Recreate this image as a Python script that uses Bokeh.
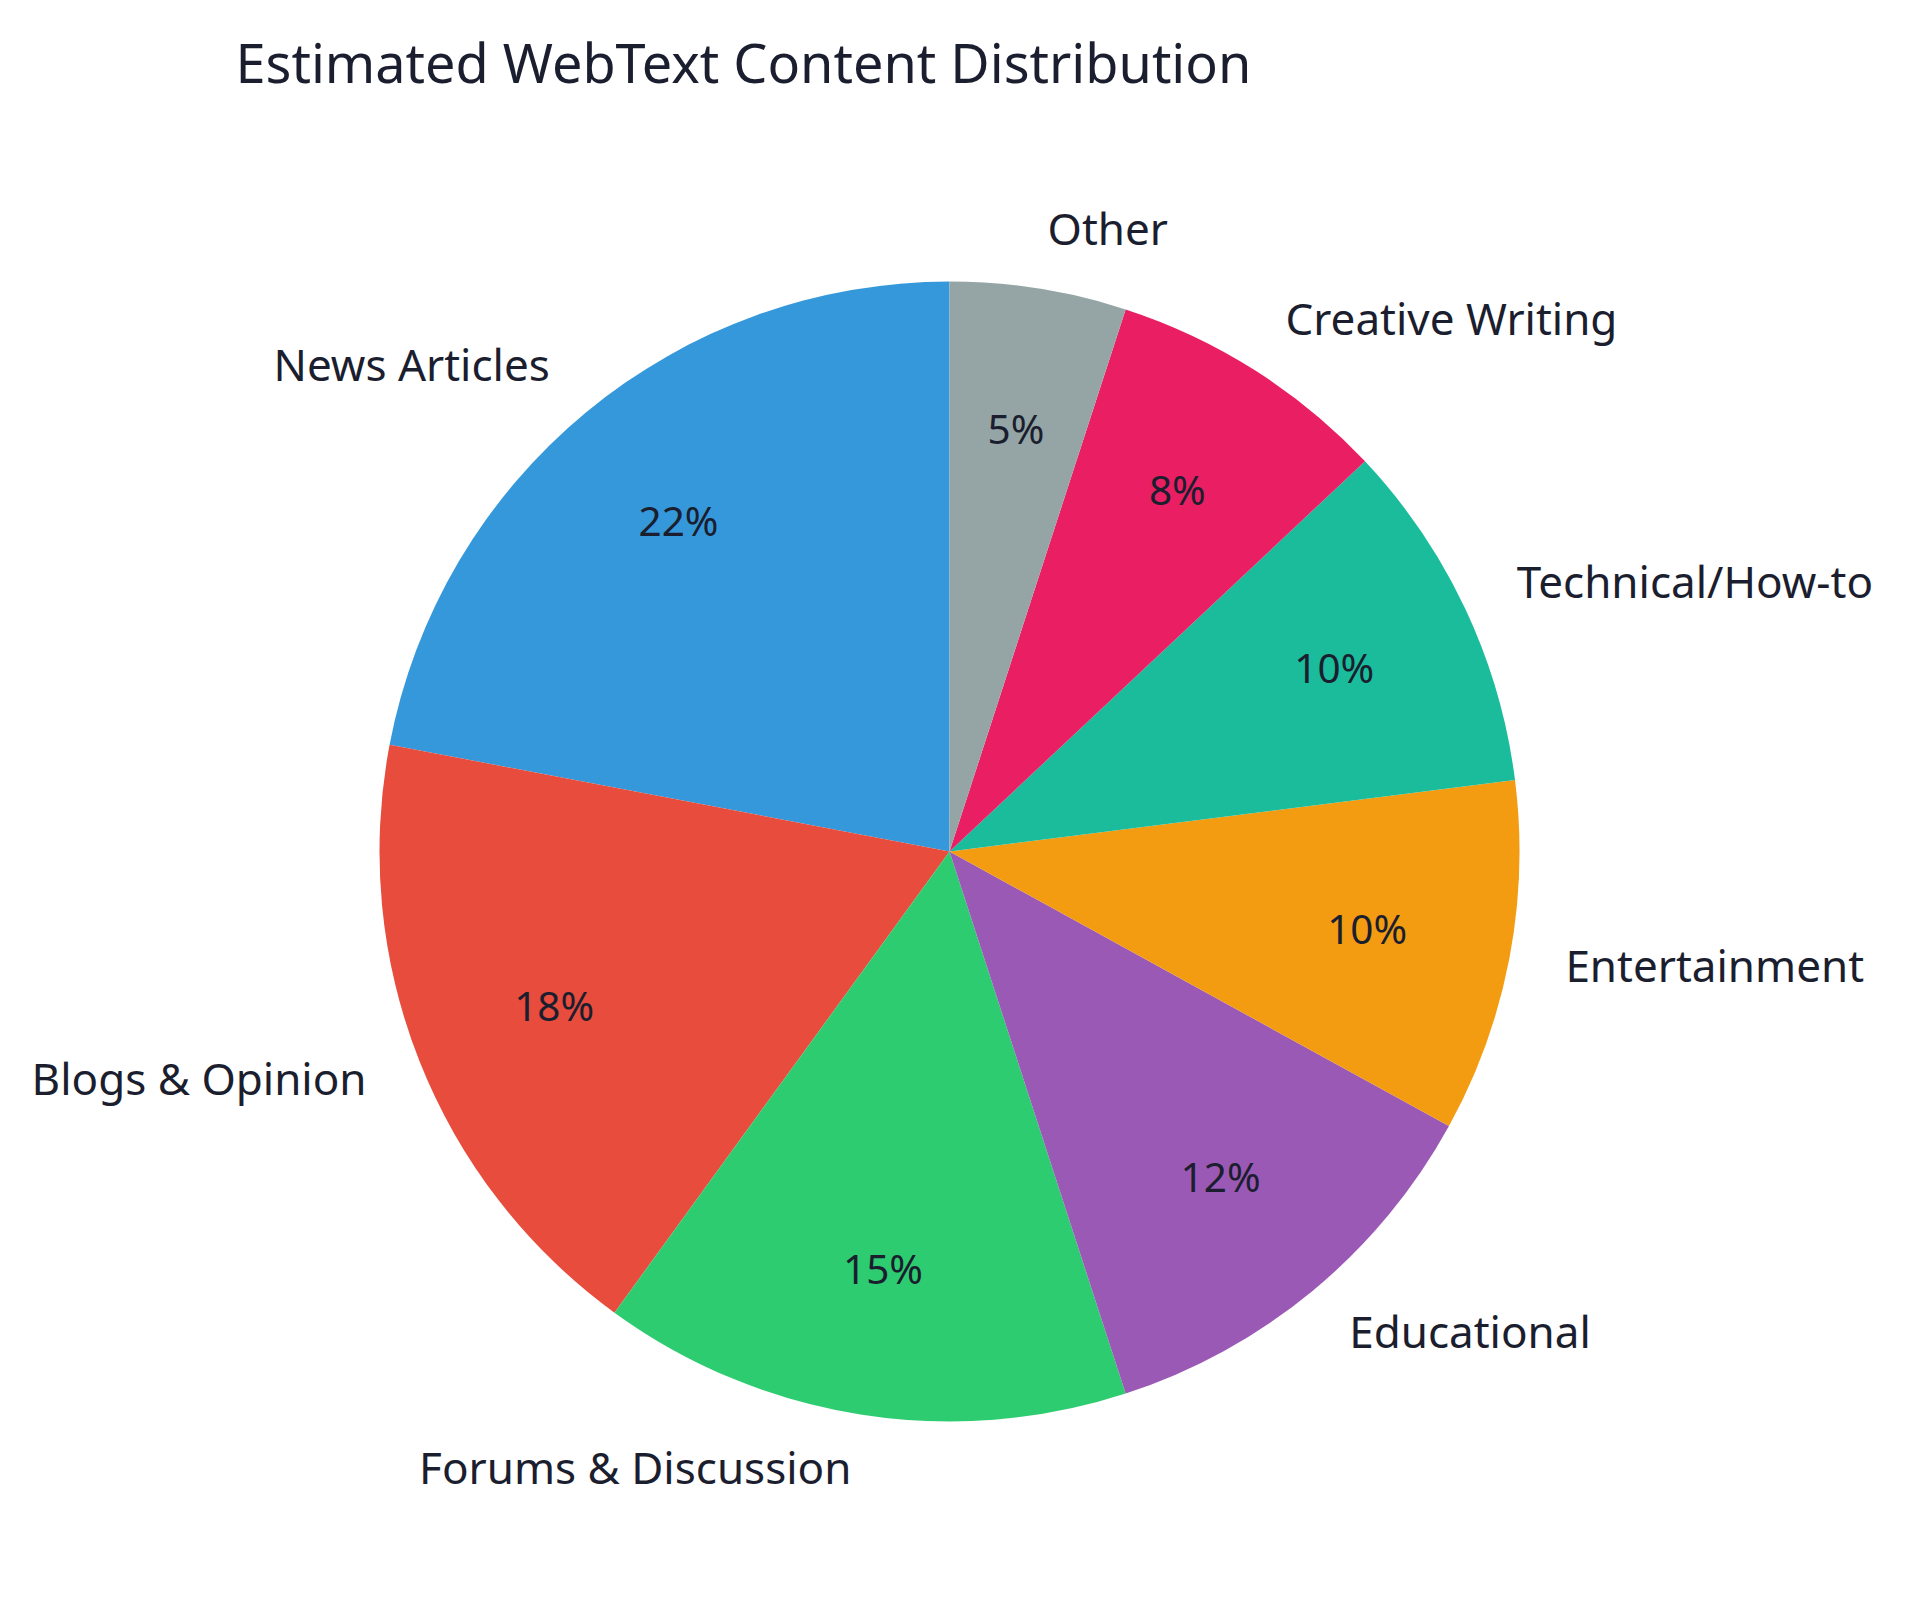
import numpy as np
from bokeh.plotting import figure
from bokeh.models import ColumnDataSource, Range1d, Label
from bokeh.core.properties import value
from bokeh.embed import file_html
from bokeh.resources import INLINE

categories = ["News Articles", "Blogs & Opinion", "Forums & Discussion", "Educational",
              "Entertainment", "Technical/How-to", "Creative Writing", "Other"]
shares = [22, 18, 15, 12, 10, 10, 8, 5]
colors = ["#3498db", "#e74c3c", "#2ecc71", "#9b59b6", "#f39c12", "#1abc9c", "#e91e63", "#95a5a6"]

FONT = "Noto Sans"
TXT = "#1b1e2e"
R = 570

vals = np.array(shares, dtype=float)
frac = vals / vals.sum()
cum = np.concatenate([[0], np.cumsum(frac)])
start = np.pi / 2 + cum[:-1] * 2 * np.pi
end = np.pi / 2 + cum[1:] * 2 * np.pi
mid = (start + end) / 2

src = ColumnDataSource(dict(start=start, end=end, color=colors))

lab_r = R * 1.10
pct_r = R * 0.746
lab = ColumnDataSource(dict(
    x=lab_r * np.cos(mid), y=lab_r * np.sin(mid), text=categories,
    align=["left" if np.cos(m) > 0 else "right" for m in mid]))
pct = ColumnDataSource(dict(
    x=pct_r * np.cos(mid), y=pct_r * np.sin(mid),
    text=[f"{v:.0f}%" for v in frac * 100]))

p = figure(width=1904, height=1585, output_backend="svg", toolbar_location=None,
           x_range=Range1d(-949, 955), y_range=Range1d(-734, 851),
           min_border=0, x_axis_type=None, y_axis_type=None)
p.grid.visible = False
p.outline_line_color = None
p.background_fill_color = "white"
p.border_fill_color = "white"

p.wedge(x=0, y=0, radius=R, start_angle="start", end_angle="end", direction="anticlock",
        fill_color="color", line_color=None, source=src)

p.text(x="x", y="y", text="text", text_align="align", text_baseline="middle",
       y_offset=-4, text_font=value(FONT), text_font_size="44px", text_color=TXT, source=lab)
p.text(x="x", y="y", text="text", text_align="center", text_baseline="middle",
       y_offset=-3, text_font=value(FONT), text_font_size="40.5px", text_color=TXT, source=pct)

p.add_layout(Label(x=235, y=1585 - 61, x_units="screen", y_units="screen",
                   text="Estimated WebText Content Distribution", text_font=FONT,
                   text_font_size="54px", text_color=TXT, text_baseline="alphabetic"))

open("out.html", "w").write(file_html(p, INLINE))
